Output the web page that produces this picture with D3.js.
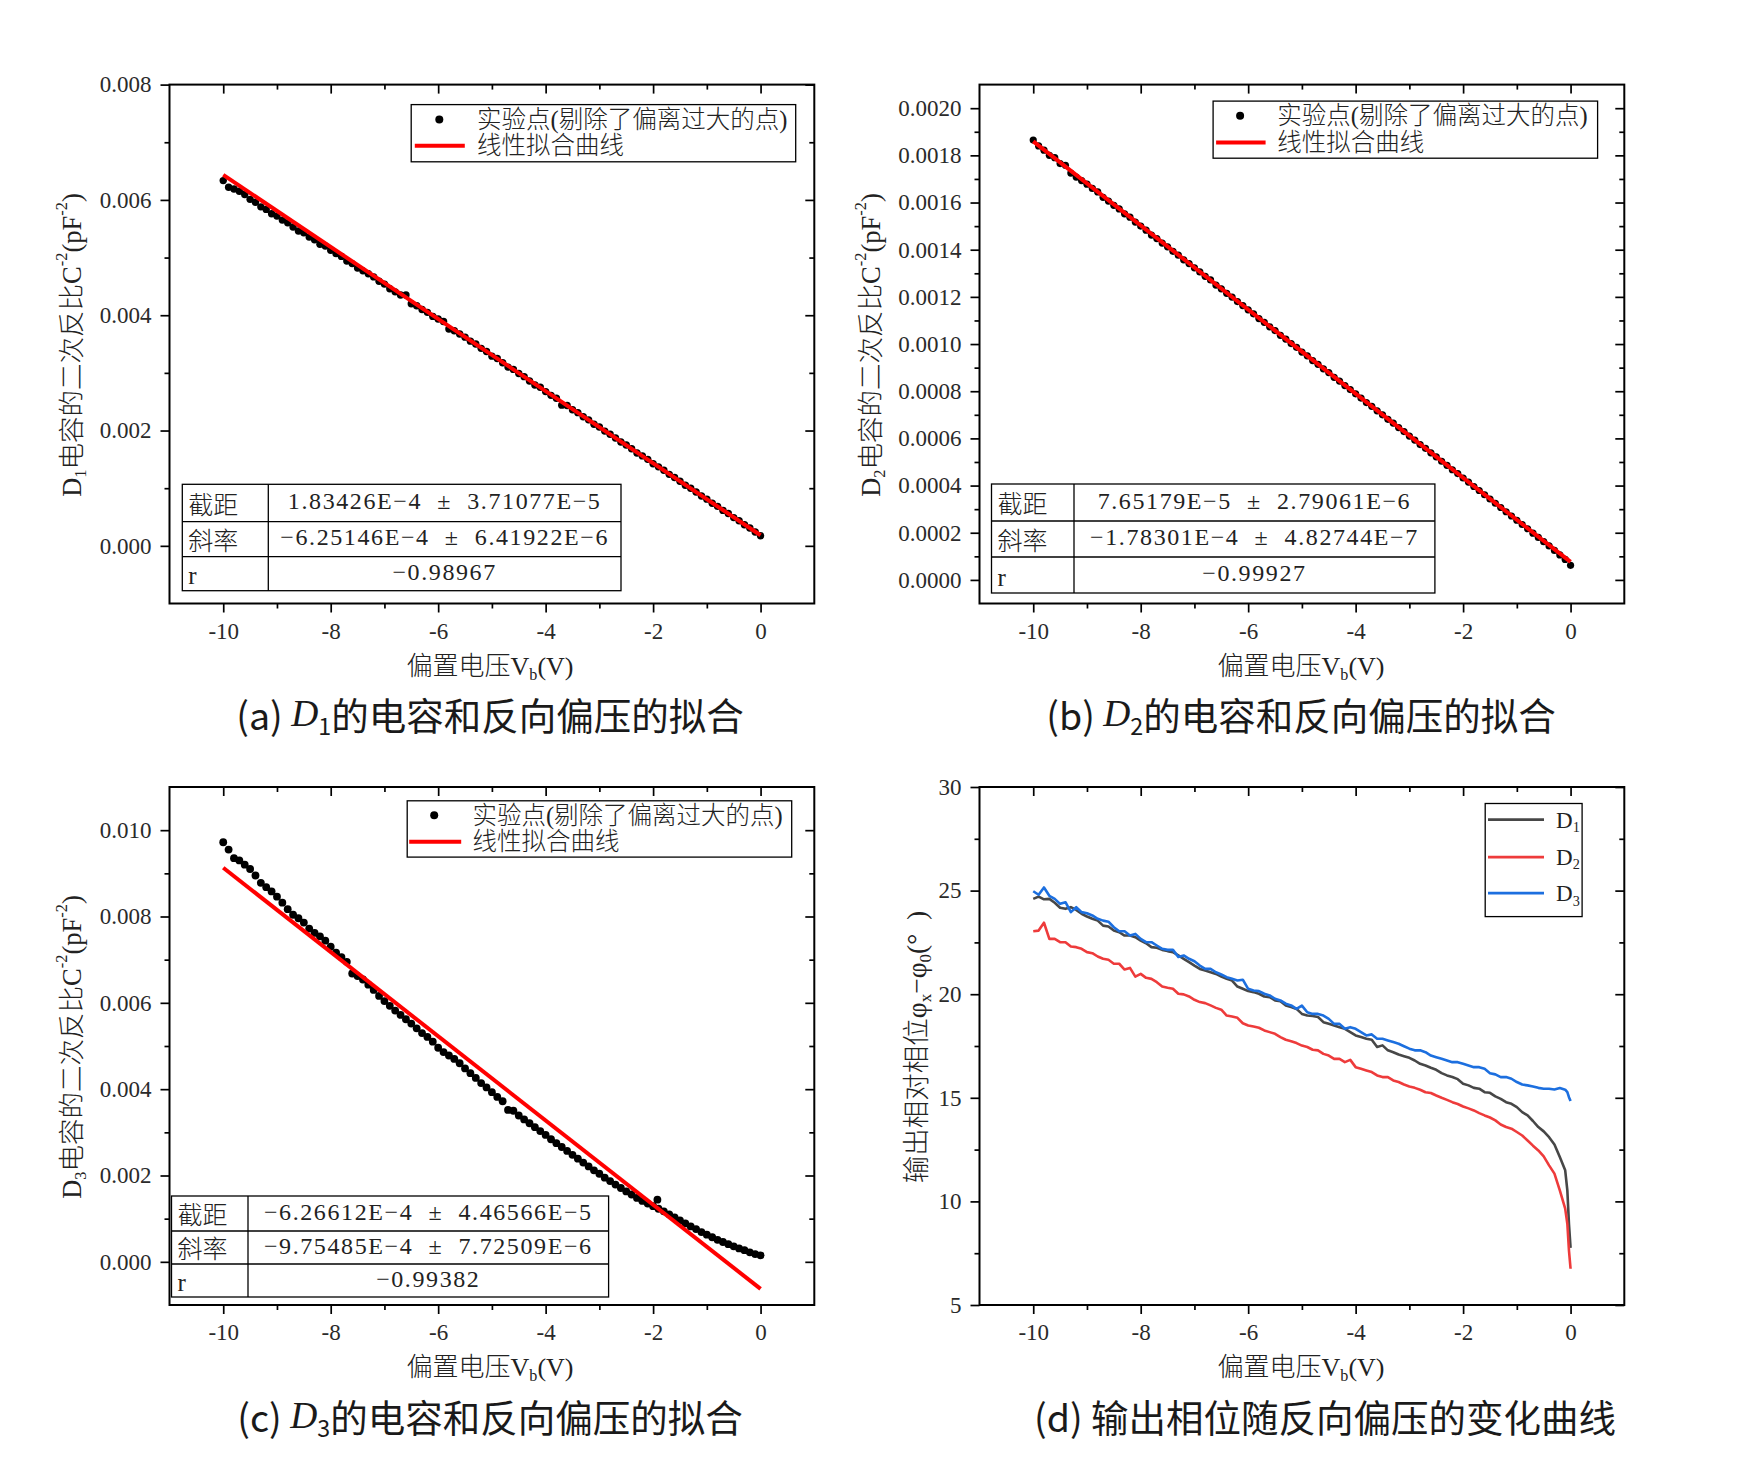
<!DOCTYPE html>
<html>
<head>
<meta charset="utf-8">
<script src="https://cdn.jsdelivr.net/npm/d3@7"></script>
<style>
  html, body { margin: 0; padding: 0; background: #fff; }
  svg { display: block; }
</style>
</head>
<body>
<svg id="chart" width="1759" height="1463"></svg>
<script>
// ---------------- DATA ----------------
// Bias voltage grid (V) for the capacitance scatter panels
const volts = [-10,-9.9,-9.8,-9.7,-9.6,-9.5,-9.4,-9.3,-9.2,-9.1,
  -9,-8.9,-8.8,-8.7,-8.6,-8.5,-8.4,-8.3,-8.2,-8.1,
  -8,-7.9,-7.8,-7.7,-7.6,-7.5,-7.4,-7.3,-7.2,-7.1,
  -7,-6.9,-6.8,-6.7,-6.6,-6.5,-6.4,-6.3,-6.2,-6.1,
  -6,-5.9,-5.8,-5.7,-5.6,-5.5,-5.4,-5.3,-5.2,-5.1,
  -5,-4.9,-4.8,-4.7,-4.6,-4.5,-4.4,-4.3,-4.2,-4.1,
  -4,-3.9,-3.8,-3.7,-3.6,-3.5,-3.4,-3.3,-3.2,-3.1,
  -3,-2.9,-2.8,-2.7,-2.6,-2.5,-2.4,-2.3,-2.2,-2.1,
  -2,-1.9,-1.8,-1.7,-1.6,-1.5,-1.4,-1.3,-1.2,-1.1,
  -1,-0.9,-0.8,-0.7,-0.6,-0.5,-0.4,-0.3,-0.2,-0.1,
  0];

// C^-2 values in units of 1e-3 pF^-2
const invC2_D1 = [6.335,6.22,6.19,6.15,6.095,6.01,5.96,5.88,5.835,5.76,
  5.72,5.65,5.605,5.53,5.46,5.43,5.355,5.31,5.23,5.20,
  5.125,5.07,5.02,4.94,4.895,4.82,4.77,4.72,4.665,4.59,
  4.54,4.46,4.405,4.35,4.35,4.20,4.165,4.10,4.05,3.98,
  3.935,3.89,3.76,3.73,3.675,3.62,3.55,3.50,3.425,3.37,
  3.29,3.25,3.175,3.10,3.06,2.99,2.935,2.86,2.79,2.75,
  2.675,2.61,2.56,2.44,2.435,2.36,2.31,2.24,2.185,2.11,
  2.06,1.99,1.935,1.87,1.80,1.75,1.685,1.61,1.56,1.50,
  1.425,1.37,1.31,1.24,1.185,1.12,1.05,1.00,0.935,0.865,
  0.81,0.74,0.685,0.615,0.56,0.49,0.435,0.365,0.31,0.24,
  0.175];

const invC2_D2 = [1.865,1.840,1.822,1.800,1.790,1.765,1.758,1.725,1.708,1.693,
  1.678,1.660,1.645,1.622,1.606,1.588,1.573,1.552,1.538,1.517,
  1.500,1.483,1.462,1.447,1.428,1.412,1.393,1.377,1.357,1.341,
  1.323,1.306,1.287,1.272,1.250,1.234,1.215,1.199,1.180,1.163,
  1.145,1.128,1.108,1.092,1.073,1.057,1.037,1.021,1.002,0.986,
  0.966,0.950,0.930,0.914,0.895,0.879,0.859,0.843,0.824,0.807,
  0.789,0.771,0.752,0.736,0.717,0.700,0.681,0.665,0.646,0.629,
  0.610,0.593,0.574,0.558,0.539,0.522,0.503,0.486,0.467,0.451,
  0.432,0.415,0.396,0.379,0.361,0.343,0.325,0.307,0.289,0.271,
  0.253,0.235,0.217,0.198,0.180,0.162,0.144,0.125,0.106,0.087,
  0.062];

const invC2_D3 = [9.72,9.55,9.35,9.30,9.20,9.10,8.95,8.78,8.68,8.58,
  8.46,8.32,8.17,8.04,7.96,7.86,7.72,7.62,7.54,7.44,
  7.30,7.16,7.06,6.95,6.68,6.62,6.54,6.42,6.30,6.16,
  6.04,5.93,5.82,5.72,5.62,5.52,5.41,5.30,5.21,5.10,
  4.96,4.86,4.78,4.70,4.60,4.48,4.37,4.26,4.14,4.04,
  3.93,3.82,3.72,3.52,3.50,3.39,3.30,3.21,3.12,3.03,
  2.94,2.84,2.75,2.66,2.57,2.48,2.39,2.30,2.21,2.12,
  2.04,1.95,1.87,1.79,1.71,1.63,1.56,1.48,1.41,1.35,
  1.29,1.23,1.17,1.10,1.03,0.96,0.89,0.82,0.76,0.69,
  0.63,0.57,0.51,0.46,0.41,0.36,0.31,0.27,0.22,0.18,
  0.15];
const outlierD3_V = [-1.92];
const outlierD3_Y = [1.44];

// Linear fit end points (V, 1e-3 pF^-2)
const fitV = [-10, 0];
const fitD1 = [6.4349, 0.1834];
const fitD2 = [1.8595, 0.0765];
const fitD3 = [9.1282, -0.6266];

// Fit tables
const tableD1 = [["截距", "1.83426E−4  ±  3.71077E−5"], ["斜率", "−6.25146E−4  ±  6.41922E−6"], ["r", "−0.98967"]];
const tableD2 = [["截距", "7.65179E−5  ±  2.79061E−6"], ["斜率", "−1.78301E−4  ±  4.82744E−7"], ["r", "−0.99927"]];
const tableD3 = [["截距", "−6.26612E−4  ±  4.46566E−5"], ["斜率", "−9.75485E−4  ±  7.72509E−6"], ["r", "−0.99382"]];

// Phase panel (d)
const voltsD = [-10,-9.9,-9.8,-9.7,-9.6,-9.5,-9.4,-9.3,-9.2,-9.1,
  -9,-8.9,-8.8,-8.7,-8.6,-8.5,-8.4,-8.3,-8.2,-8.1,
  -8,-7.9,-7.8,-7.7,-7.6,-7.5,-7.4,-7.3,-7.2,-7.1,
  -7,-6.9,-6.8,-6.7,-6.6,-6.5,-6.4,-6.3,-6.2,-6.1,
  -6,-5.9,-5.8,-5.7,-5.6,-5.5,-5.4,-5.3,-5.2,-5.1,
  -5,-4.9,-4.8,-4.7,-4.6,-4.5,-4.4,-4.3,-4.2,-4.1,
  -4,-3.9,-3.8,-3.7,-3.6,-3.5,-3.4,-3.3,-3.2,-3.1,
  -3,-2.9,-2.8,-2.7,-2.6,-2.5,-2.4,-2.3,-2.2,-2.1,
  -2,-1.9,-1.8,-1.7,-1.6,-1.5,-1.4,-1.3,-1.2,-1.1,
  -1,-0.9,-0.8,-0.7,-0.6,-0.5,-0.4,-0.3,-0.2,-0.1,
  -0.06,-0.03,0];
const phaseD1 = [24.60,24.71,24.58,24.60,24.41,24.17,24.12,24.20,24.07,23.88,
  23.75,23.64,23.55,23.31,23.27,23.07,22.99,22.83,22.83,22.75,
  22.59,22.46,22.27,22.24,22.14,22.08,22.03,21.87,21.71,21.55,
  21.38,21.22,21.14,21.06,20.98,20.85,20.74,20.66,20.37,20.26,
  20.15,20.10,20.02,19.89,19.86,19.70,19.66,19.46,19.38,19.29,
  19.05,18.97,18.95,18.90,18.65,18.57,18.49,18.41,18.33,18.17,
  18.01,17.93,17.85,17.80,17.45,17.53,17.29,17.20,17.09,17.01,
  16.93,16.80,16.64,16.56,16.45,16.35,16.19,16.08,16.00,15.90,
  15.68,15.60,15.48,15.44,15.27,15.24,15.07,14.95,14.79,14.71,
  14.55,14.31,14.15,13.88,13.59,13.38,13.10,12.75,12.14,11.50,
  10.53,8.92,7.76];
const phaseD2 = [23.04,23.07,23.45,22.67,22.67,22.51,22.51,22.30,22.27,22.19,
  22.03,21.98,21.82,21.71,21.66,21.47,21.47,21.19,21.27,20.85,
  20.98,20.79,20.74,20.58,20.37,20.31,20.26,20.02,19.99,19.89,
  19.73,19.62,19.57,19.46,19.34,19.25,18.97,18.92,18.86,18.60,
  18.49,18.44,18.38,18.25,18.17,18.09,17.93,17.80,17.73,17.64,
  17.52,17.45,17.32,17.29,17.12,17.04,16.88,16.88,16.72,16.83,
  16.48,16.40,16.32,16.24,16.08,16.00,16.00,15.84,15.76,15.64,
  15.55,15.48,15.39,15.27,15.23,15.11,15.00,14.90,14.79,14.70,
  14.58,14.49,14.39,14.26,14.15,14.05,13.91,13.71,13.59,13.51,
  13.35,13.18,12.94,12.69,12.46,12.17,11.74,11.34,10.53,9.65,
  8.92,7.64,6.75];
const phaseD3 = [24.97,24.80,25.15,24.75,24.60,24.36,24.44,23.96,24.20,23.96,
  23.91,23.80,23.64,23.55,23.50,23.23,23.04,23.04,22.83,22.91,
  22.67,22.51,22.51,22.35,22.19,22.14,22.14,21.80,21.87,21.71,
  21.59,21.38,21.22,21.22,21.06,20.95,20.82,20.74,20.66,20.70,
  20.26,20.18,20.15,20.02,19.94,19.78,19.70,19.54,19.46,19.29,
  19.45,19.13,19.05,19.05,18.97,18.81,18.57,18.57,18.33,18.41,
  18.33,18.17,18.01,18.06,17.85,17.85,17.77,17.69,17.61,17.49,
  17.37,17.29,17.29,17.20,17.04,16.96,16.88,16.80,16.72,16.72,
  16.64,16.56,16.48,16.48,16.40,16.19,16.13,16.00,16.00,15.92,
  15.76,15.64,15.60,15.55,15.48,15.44,15.44,15.40,15.47,15.39,
  15.27,15.03,14.84];
const phaseNames = ["1", "2", "3"];
const phaseColors = ["#474747", "#ee3b3b", "#1c6fdf"];

// Axis ticks
const xTicks = [-10, -8, -6, -4, -2, 0];
const xTickLabels = ["-10", "-8", "-6", "-4", "-2", "0"];
const xMinorTicks = [-9, -7, -5, -3, -1];
const yTicksA = [0, 2, 4, 6, 8];
const yTickLabelsA = ["0.000", "0.002", "0.004", "0.006", "0.008"];
const yMinorA = [1, 3, 5, 7];
const yTicksB = [0, 0.2, 0.4, 0.6, 0.8, 1.0, 1.2, 1.4, 1.6, 1.8, 2.0];
const yTickLabelsB = ["0.0000", "0.0002", "0.0004", "0.0006", "0.0008", "0.0010", "0.0012", "0.0014", "0.0016", "0.0018", "0.0020"];
const yMinorB = [0.1, 0.3, 0.5, 0.7, 0.9, 1.1, 1.3, 1.5, 1.7, 1.9];
const yTicksC = [0, 2, 4, 6, 8, 10];
const yTickLabelsC = ["0.000", "0.002", "0.004", "0.006", "0.008", "0.010"];
const yMinorC = [1, 3, 5, 7, 9];
const yTicksD = [5, 10, 15, 20, 25, 30];
const yTickLabelsD = ["5", "10", "15", "20", "25", "30"];
const yMinorD = [7.5, 12.5, 17.5, 22.5, 27.5];

const legendTexts = ["实验点(剔除了偏离过大的点)", "线性拟合曲线"];
const captions = [
  ["(a) ", "D", "1", "的电容和反向偏压的拟合"],
  ["(b) ", "D", "2", "的电容和反向偏压的拟合"],
  ["(c) ", "D", "3", "的电容和反向偏压的拟合"],
  ["(d) 输出相位随反向偏压的变化曲线"]
];

// ---------------- DRAWING ----------------
const SERIF = '"Liberation Serif", "Noto Sans CJK SC", serif';
const SANS = '"Noto Sans CJK SC", "Noto Sans", sans-serif';
const TXT = "#222";
const svg = d3.select("#chart");
svg.append("rect").attr("width", 1759).attr("height", 1463).attr("fill", "#fff");

function rich(text, parts, fs) {
  let shift = 0;
  parts.forEach(([s, mode, fam]) => {
    let target = 0, size = fs;
    if (mode === "sub") { target = 0.32 * fs; size = 0.62 * fs; }
    if (mode === "sup") { target = -0.42 * fs; size = 0.62 * fs; }
    const t = text.append("tspan").text(s).attr("font-size", size).attr("dy", target - shift);
    shift = target;
    if (mode === "it") t.attr("font-style", "italic");
    if (fam) t.attr("font-family", fam);
  });
}

function styleAxis(sel) {
  sel.select(".domain").remove();
  sel.attr("font-family", SERIF).attr("font-size", 23);
  sel.selectAll(".tick line").attr("stroke", "#000").attr("stroke-width", 1.7);
  sel.selectAll(".tick text").attr("fill", "#2a2a2a");
}

function makePanel(cfg) {
  const g = svg.append("g");
  const x = d3.scaleLinear().domain([-11, 1]).range([cfg.L, cfg.R]);
  const y = d3.scaleLinear().domain(cfg.yDomain).range([cfg.B, cfg.T]);

  // bottom (outward) + top (inward)
  g.append("g").attr("transform", `translate(0,${cfg.B})`)
    .call(d3.axisBottom(x).tickValues(xTicks).tickSize(9).tickPadding(10).tickFormat((d, i) => xTickLabels[i])).call(styleAxis);
  g.append("g").attr("transform", `translate(0,${cfg.B})`)
    .call(d3.axisBottom(x).tickValues(xMinorTicks).tickSize(5).tickFormat("")).call(styleAxis);
  g.append("g").attr("transform", `translate(0,${cfg.T})`)
    .call(d3.axisBottom(x).tickValues(xTicks).tickSize(9).tickFormat("")).call(styleAxis);
  g.append("g").attr("transform", `translate(0,${cfg.T})`)
    .call(d3.axisBottom(x).tickValues(xMinorTicks).tickSize(5).tickFormat("")).call(styleAxis);
  // left (outward) + right (inward)
  g.append("g").attr("transform", `translate(${cfg.L},0)`)
    .call(d3.axisLeft(y).tickValues(cfg.yTicks).tickSize(9).tickPadding(9).tickFormat((d, i) => cfg.yLabels[i])).call(styleAxis);
  g.append("g").attr("transform", `translate(${cfg.L},0)`)
    .call(d3.axisLeft(y).tickValues(cfg.yMinor).tickSize(5).tickFormat("")).call(styleAxis);
  g.append("g").attr("transform", `translate(${cfg.R},0)`)
    .call(d3.axisLeft(y).tickValues(cfg.yTicks).tickSize(9).tickFormat("")).call(styleAxis);
  g.append("g").attr("transform", `translate(${cfg.R},0)`)
    .call(d3.axisLeft(y).tickValues(cfg.yMinor).tickSize(5).tickFormat("")).call(styleAxis);

  // x title
  const xt = g.append("text").attr("x", cfg.xtX).attr("y", cfg.xtY)
    .attr("text-anchor", "middle").attr("dominant-baseline", "central")
    .attr("font-family", SERIF).attr("font-size", 26).attr("font-weight", 300).attr("fill", TXT);
  rich(xt, [["偏置电压V"], ["b", "sub"], ["(V)"]], 26);

  // y title
  const yfs = cfg.ytFS || 26.5;
  const yt = g.append("text").attr("transform", `translate(${cfg.ytX},${cfg.ytY}) rotate(-90)`)
    .attr("text-anchor", "middle").attr("dominant-baseline", "central")
    .attr("font-family", SERIF).attr("font-size", yfs).attr("font-weight", 300).attr("fill", TXT);
  rich(yt, cfg.yTitle, yfs);

  // caption
  const cap = svg.append("text").attr("x", cfg.capX).attr("y", cfg.capY)
    .attr("text-anchor", "middle").attr("dominant-baseline", "central")
    .attr("font-family", SANS).attr("font-size", 37.5).attr("fill", "#1a1a1a");
  const c = cfg.caption;
  if (c.length === 4) rich(cap, [[c[0]], [c[1], "it", '"Liberation Serif", serif'], [c[2], "sub"], [c[3]]], 37.5);
  else rich(cap, [[c[0]]], 37.5);

  return { g, x, y };
}

function drawScatterPanel(cfg, vals, fitY, table) {
  const { g, x, y } = makePanel(cfg);
  const idx = d3.range(vals.length);
  g.append("g").selectAll("circle").data(idx).join("circle")
    .attr("cx", i => x(volts[i])).attr("cy", i => y(vals[i])).attr("r", cfg.dotR).attr("fill", "#000");
  if (cfg.outV) {
    g.append("g").selectAll("circle").data(d3.range(cfg.outV.length)).join("circle")
      .attr("cx", i => x(cfg.outV[i])).attr("cy", i => y(cfg.outY[i])).attr("r", cfg.dotR).attr("fill", "#000");
  }
  const line = d3.line().x(i => x(fitV[i])).y(i => y(fitY[i]));
  g.append("path").attr("d", line(d3.range(fitV.length))).attr("fill", "none")
    .attr("stroke", "#ff0000").attr("stroke-width", 4);

  // legend
  const lg = cfg.legend;
  g.append("rect").attr("x", lg.x0).attr("y", lg.y0).attr("width", lg.x1 - lg.x0).attr("height", lg.y1 - lg.y0)
    .attr("fill", "#fff").attr("stroke", "#000").attr("stroke-width", 1.3);
  g.append("circle").attr("cx", lg.dotX).attr("cy", lg.r1).attr("r", 4).attr("fill", "#000");
  g.append("line").attr("x1", lg.lx0).attr("x2", lg.lx1).attr("y1", lg.r2).attr("y2", lg.r2)
    .attr("stroke", "#ff0000").attr("stroke-width", 4);
  [lg.r1, lg.r2].forEach((ry, k) => {
    g.append("text").attr("x", lg.tx).attr("y", ry).attr("dominant-baseline", "central")
      .attr("font-family", SERIF).attr("font-size", 24.5).attr("font-weight", 300).attr("fill", TXT)
      .text(legendTexts[k]);
  });

  // table
  const tb = cfg.table;
  const tg = g.append("g");
  tg.append("rect").attr("x", tb.x0).attr("y", tb.ys[0]).attr("width", tb.x1 - tb.x0).attr("height", tb.ys[3] - tb.ys[0])
    .attr("fill", "#fff").attr("stroke", "#000").attr("stroke-width", 1.3);
  tg.append("line").attr("x1", tb.xs).attr("x2", tb.xs).attr("y1", tb.ys[0]).attr("y2", tb.ys[3]).attr("stroke", "#000").attr("stroke-width", 1.3);
  [1, 2].forEach(k => tg.append("line").attr("x1", tb.x0).attr("x2", tb.x1).attr("y1", tb.ys[k]).attr("y2", tb.ys[k]).attr("stroke", "#000").attr("stroke-width", 1.3));
  table.forEach((row, k) => {
    const cy = (tb.ys[k] + tb.ys[k + 1]) / 2;
    tg.append("text").attr("x", tb.x0 + 6).attr("y", cy + 2).attr("dominant-baseline", "central")
      .attr("font-family", SERIF).attr("font-size", 25).attr("font-weight", 300).attr("fill", TXT).text(row[0]);
    tg.append("text").attr("x", (tb.xs + tb.x1) / 2).attr("y", cy - 2).attr("dominant-baseline", "central")
      .attr("text-anchor", "middle").style("white-space", "pre")
      .attr("font-family", SERIF).attr("font-size", 24).attr("letter-spacing", 1.6).attr("fill", TXT).text(row[1]);
  });

  g.append("rect").attr("x", cfg.L).attr("y", cfg.T).attr("width", cfg.R - cfg.L).attr("height", cfg.B - cfg.T)
    .attr("fill", "none").attr("stroke", "#000").attr("stroke-width", 2);
}

const yTitleC2 = n => [["D"], [n, "sub"], ["电容的二次反比C"], ["-2", "sup"], ["(pF"], ["-2", "sup"], [")"]];

drawScatterPanel({
  L: 169.5, R: 814.3, T: 84.6, B: 603.5, yDomain: [-1, 8],
  yTicks: yTicksA, yLabels: yTickLabelsA, yMinor: yMinorA,
  xtX: 490, xtY: 666, ytX: 72, ytY: 345, yTitle: yTitleC2("1"),
  capX: 490, capY: 713, caption: captions[0], dotR: 3.7,
  legend: { x0: 411.2, y0: 104.6, x1: 795.7, y1: 161.8, dotX: 439.3, r1: 119.4, r2: 145.7, lx0: 414.8, lx1: 464.8, tx: 477 },
  table: { x0: 182.3, xs: 268.3, x1: 621, ys: [484.3, 521.7, 556.7, 590.7] }
}, invC2_D1, fitD1, tableD1);

drawScatterPanel({
  L: 979.5, R: 1624.3, T: 84.6, B: 603.5, yDomain: [-0.1, 2.1],
  yTicks: yTicksB, yLabels: yTickLabelsB, yMinor: yMinorB,
  xtX: 1301, xtY: 666, ytX: 871, ytY: 345, yTitle: yTitleC2("2"),
  capX: 1301, capY: 713, caption: captions[1], dotR: 3.6,
  legend: { x0: 1213.1, y0: 101.1, x1: 1597.6, y1: 158.2, dotX: 1240.1, r1: 115.8, r2: 142.6, lx0: 1216.1, lx1: 1265.6, tx: 1277.3 },
  table: { x0: 991.5, xs: 1074, x1: 1434.9, ys: [484, 521, 557, 593] }
}, invC2_D2, fitD2, tableD2);

drawScatterPanel({
  L: 169.5, R: 814.3, T: 787, B: 1305, yDomain: [-1, 11],
  yTicks: yTicksC, yLabels: yTickLabelsC, yMinor: yMinorC,
  xtX: 490, xtY: 1367, ytX: 72, ytY: 1047, yTitle: yTitleC2("3"),
  capX: 490, capY: 1415, caption: captions[2], dotR: 3.9,
  outV: outlierD3_V, outY: outlierD3_Y,
  legend: { x0: 407.2, y0: 800.8, x1: 791.7, y1: 857.1, dotX: 434.2, r1: 815.3, r2: 841.7, lx0: 409.2, lx1: 461.2, tx: 472.4 },
  table: { x0: 171.5, xs: 248, x1: 608.6, ys: [1196, 1231, 1264, 1297] }
}, invC2_D3, fitD3, tableD3);

// Panel (d)
(function () {
  const cfg = {
    L: 979.5, R: 1624.3, T: 787, B: 1305, yDomain: [5, 30],
    yTicks: yTicksD, yLabels: yTickLabelsD, yMinor: yMinorD,
    xtX: 1301, xtY: 1367, ytX: 916, ytY: 1047, ytFS: 27.5,
    yTitle: [["输出相对相位φ"], ["x", "sub"], ["−φ"], ["0", "sub"], ["(°\u00a0\u00a0)"]],
    capX: 1325, capY: 1415, caption: captions[3]
  };
  const { g, x, y } = makePanel(cfg);
  const series = [phaseD1, phaseD2, phaseD3];
  series.forEach((s, k) => {
    const ln = d3.line().x(i => x(voltsD[i])).y(i => y(s[i]));
    g.append("path").attr("d", ln(d3.range(s.length))).attr("fill", "none")
      .attr("stroke", phaseColors[k]).attr("stroke-width", 2.6).attr("stroke-linejoin", "round");
  });
  // legend
  const lg = { x0: 1485.2, y0: 803.5, x1: 1582.1, y1: 916.6, lx0: 1488, lx1: 1544, rows: [819.7, 857.1, 893.2], tx: 1556 };
  g.append("rect").attr("x", lg.x0).attr("y", lg.y0).attr("width", lg.x1 - lg.x0).attr("height", lg.y1 - lg.y0)
    .attr("fill", "#fff").attr("stroke", "#000").attr("stroke-width", 1.3);
  lg.rows.forEach((ry, k) => {
    g.append("line").attr("x1", lg.lx0).attr("x2", lg.lx1).attr("y1", ry).attr("y2", ry)
      .attr("stroke", phaseColors[k]).attr("stroke-width", 2.8);
    const t = g.append("text").attr("x", lg.tx).attr("y", ry).attr("dominant-baseline", "central")
      .attr("font-family", SERIF).attr("font-size", 23).attr("fill", TXT);
    rich(t, [["D"], [phaseNames[k], "sub"]], 23);
  });
  g.append("rect").attr("x", cfg.L).attr("y", cfg.T).attr("width", cfg.R - cfg.L).attr("height", cfg.B - cfg.T)
    .attr("fill", "none").attr("stroke", "#000").attr("stroke-width", 2);
})();
</script>
</body>
</html>
